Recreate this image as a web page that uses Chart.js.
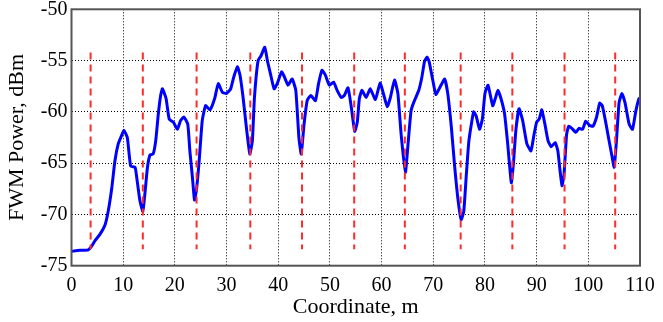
<!DOCTYPE html>
<html>
<head>
<meta charset="utf-8">
<script src="https://cdn.jsdelivr.net/npm/chart.js@4/dist/chart.umd.min.js"></script>
<style>
  html, body { margin: 0; padding: 0; background: #fff; }
  canvas { display: block; }
</style>
</head>
<body>
<canvas id="fwmChart" width="663" height="322"></canvas>
<script>
// FWM power measured along the fibre (coordinate in m, power in dBm)
const coordX = [
    0, 1.6, 3.25, 3.9, 4.55, 5.5, 6.5, 7.1, 7.8, 8.4, 9.05, 9.7, 10.15, 10.8, 11.45, 12.3,
    12.7, 13.25, 13.8, 14.2, 14.7, 15.2, 15.8, 16.3, 16.8, 17.25, 17.6, 18.3, 18.9, 19.7,
    20.5, 21.1, 21.75, 22.5, 22.9, 23.4, 23.8, 24.2, 24.7, 25.3, 25.95, 26.8, 27.7, 28.4,
    29.2, 30.0, 30.8, 31.4, 32.1, 32.6, 33.2, 33.9, 34.5, 35.0, 35.4, 36.1, 36.7, 37.4,
    37.9, 38.5, 39.2, 39.8, 40.65, 41.2, 41.9, 42.7, 43.4, 44.0, 44.45, 45.0, 45.6, 46.3,
    47.2, 47.8, 48.45, 49.1, 49.9, 50.7, 51.4, 52.2, 52.8, 53.5, 54.1, 54.8, 55.3, 55.7,
    56.2, 57.0, 57.8, 58.8, 59.7, 60.45, 61.1, 61.7, 62.5, 63.15, 63.8, 64.6, 65.2, 65.7,
    66.2, 67.2, 67.8, 68.3, 68.8, 69.2, 69.9, 70.5, 71.3, 72.2, 72.8, 73.5, 74.1, 74.75,
    75.4, 75.9, 76.4, 76.9, 77.8, 78.3, 78.95, 79.5, 80.0, 80.6, 81.5, 82.0, 82.5, 83.1,
    83.8, 84.4, 85.1, 85.5, 86.0, 86.6, 87.3, 88.1, 88.9, 89.5, 90.0, 90.5, 91.0, 91.6,
    92.2, 92.8, 93.6, 94.1, 94.5, 94.9, 95.3, 95.8, 96.2, 96.8, 97.6, 98.2, 98.9, 99.5,
    100.2, 100.9, 101.6, 102.2, 102.7, 103.25, 103.9, 104.5, 105.0, 105.45, 105.95, 106.5,
    107.1, 107.9, 108.55, 109.2, 109.8, 110
];
const powerDbm = [
    -73.6, -73.5, -73.45, -73.1, -72.55, -71.95, -71.0, -69.7, -67.4, -64.8, -63.1, -62.3, -61.8, -62.5, -65.3, -65.4,
    -66.7, -68.7, -69.7, -68.0, -65.4, -64.2, -64.1, -62.8, -60.2, -58.4, -57.75, -58.7, -60.7, -61.0,
    -61.7, -60.85, -60.5, -61.2, -63.8, -66.4, -68.6, -67.5, -64.8, -60.85, -59.4, -59.8, -58.7, -57.25,
    -58.1, -58.2, -57.75, -56.6, -55.6, -56.4, -58.6, -61.8, -64.1, -62.8, -58.6, -55.0, -54.5, -53.7,
    -55.0, -56.3, -57.75, -57.25, -56.1, -56.6, -57.4, -56.8, -57.9, -62.5, -64.1, -61.2, -58.9, -58.4,
    -58.9, -57.25, -55.95, -56.4, -57.4, -57.1, -57.9, -58.6, -58.4, -57.65, -59.4, -61.9, -61.0, -58.7,
    -57.9, -58.6, -57.75, -58.8, -57.2, -58.4, -59.5, -58.6, -56.9, -58.2, -62.3, -65.9, -62.65, -59.9,
    -59.1, -57.9, -56.6, -55.1, -54.65, -55.1, -56.9, -58.3, -57.6, -56.8, -58.2, -61.5, -65.1, -68.4,
    -70.5, -69.7, -66.1, -62.8, -60.0, -60.4, -61.7, -60.7, -58.2, -57.4, -59.4, -58.7, -57.9, -58.7,
    -60.2, -63.1, -66.9, -65.1, -61.7, -59.7, -60.85, -63.1, -63.8, -62.2, -61.0, -60.7, -59.8, -61.2,
    -62.8, -63.4, -63.0, -63.8, -65.6, -67.2, -66.1, -62.2, -61.4, -61.6, -62.0, -61.6, -61.7, -60.9,
    -61.3, -61.4, -60.5, -59.15, -59.4, -60.7, -62.5, -64.1, -65.4, -62.8, -59.1, -58.2,
    -59.1, -61.2, -61.7, -59.9, -58.7, -58.7
];

// positions of the red dashed markers and their vertical extent
const markerX = [3.7, 13.8, 24.2, 34.6, 44.6, 54.7, 64.5, 75.3, 85.3, 95.4, 105.2];
const markerTop = -54.2;
const markerBottom = -73.4;

const xTicks = [0, 10, 20, 30, 40, 50, 60, 70, 80, 90, 100, 110];
const yTicks = [-75, -70, -65, -60, -55, -50];

const serif = 'Liberation Serif';

// grey box round the plot area
const frame = {
    id: 'frame',
    afterDraw(chart) {
        const { ctx, chartArea: a } = chart;
        ctx.save();
        ctx.strokeStyle = '#555';
        ctx.lineWidth = 2;
        ctx.strokeRect(a.left, a.top, a.right - a.left, a.bottom - a.top);
        ctx.restore();
    }
};

const markerSets = markerX.map(x => ({
    data: [{ x: x, y: markerTop }, { x: x, y: markerBottom }],
    borderColor: '#ff2a2a',
    borderWidth: 2,
    borderDash: [7, 5],
    pointRadius: 0,
    order: 0
}));

const ctx = document.getElementById('fwmChart').getContext('2d');
const chart = new Chart(ctx, {
    type: 'line',
    data: {
        datasets: [
            ...markerSets,
            {
                data: coordX.map((x, i) => ({ x: x, y: powerDbm[i] })),
                borderColor: '#0000ff',
                borderWidth: 3,
                pointRadius: 0,
                tension: 0.15,
                borderJoinStyle: 'round',
                order: 1
            }
        ]
    },
    options: {
        responsive: false,
        animation: false,
        devicePixelRatio: 1,
        layout: { padding: { top: 9.3, right: 23, left: 0, bottom: 0 } },
        plugins: {
            legend: { display: false },
            tooltip: { enabled: false }
        },
        scales: {
            x: {
                type: 'linear',
                min: 0,
                max: 110,
                afterBuildTicks: s => { s.ticks = xTicks.map(v => ({ value: v })); },
                afterFit: s => { s.height = 56.3; },
                ticks: { color: '#000', font: { family: serif, size: 20 }, padding: 8, maxRotation: 0 },
                grid: { color: '#000', lineWidth: 1, drawTicks: false },
                border: { display: false, dash: [1, 2] },
                title: {
                    display: true,
                    text: 'Coordinate, m',
                    color: '#000',
                    font: { family: serif, size: 22 },
                    padding: { top: 0, bottom: 2 }
                }
            },
            y: {
                type: 'linear',
                min: -75,
                max: -50,
                afterBuildTicks: s => { s.ticks = yTicks.map(v => ({ value: v })); },
                afterFit: s => { s.width = 71.5; s.paddingTop = 0; s.paddingBottom = 0; },
                ticks: { color: '#000', font: { family: serif, size: 20 }, padding: 4 },
                grid: { color: '#000', lineWidth: 1, drawTicks: false },
                border: { display: false, dash: [1, 2] },
                title: {
                    display: true,
                    text: 'FWM Power, dBm',
                    color: '#000',
                    font: { family: serif, size: 22 },
                    padding: { top: 4, bottom: 0 }
                }
            }
        }
    },
    plugins: [frame]
});
</script>
</body>
</html>
